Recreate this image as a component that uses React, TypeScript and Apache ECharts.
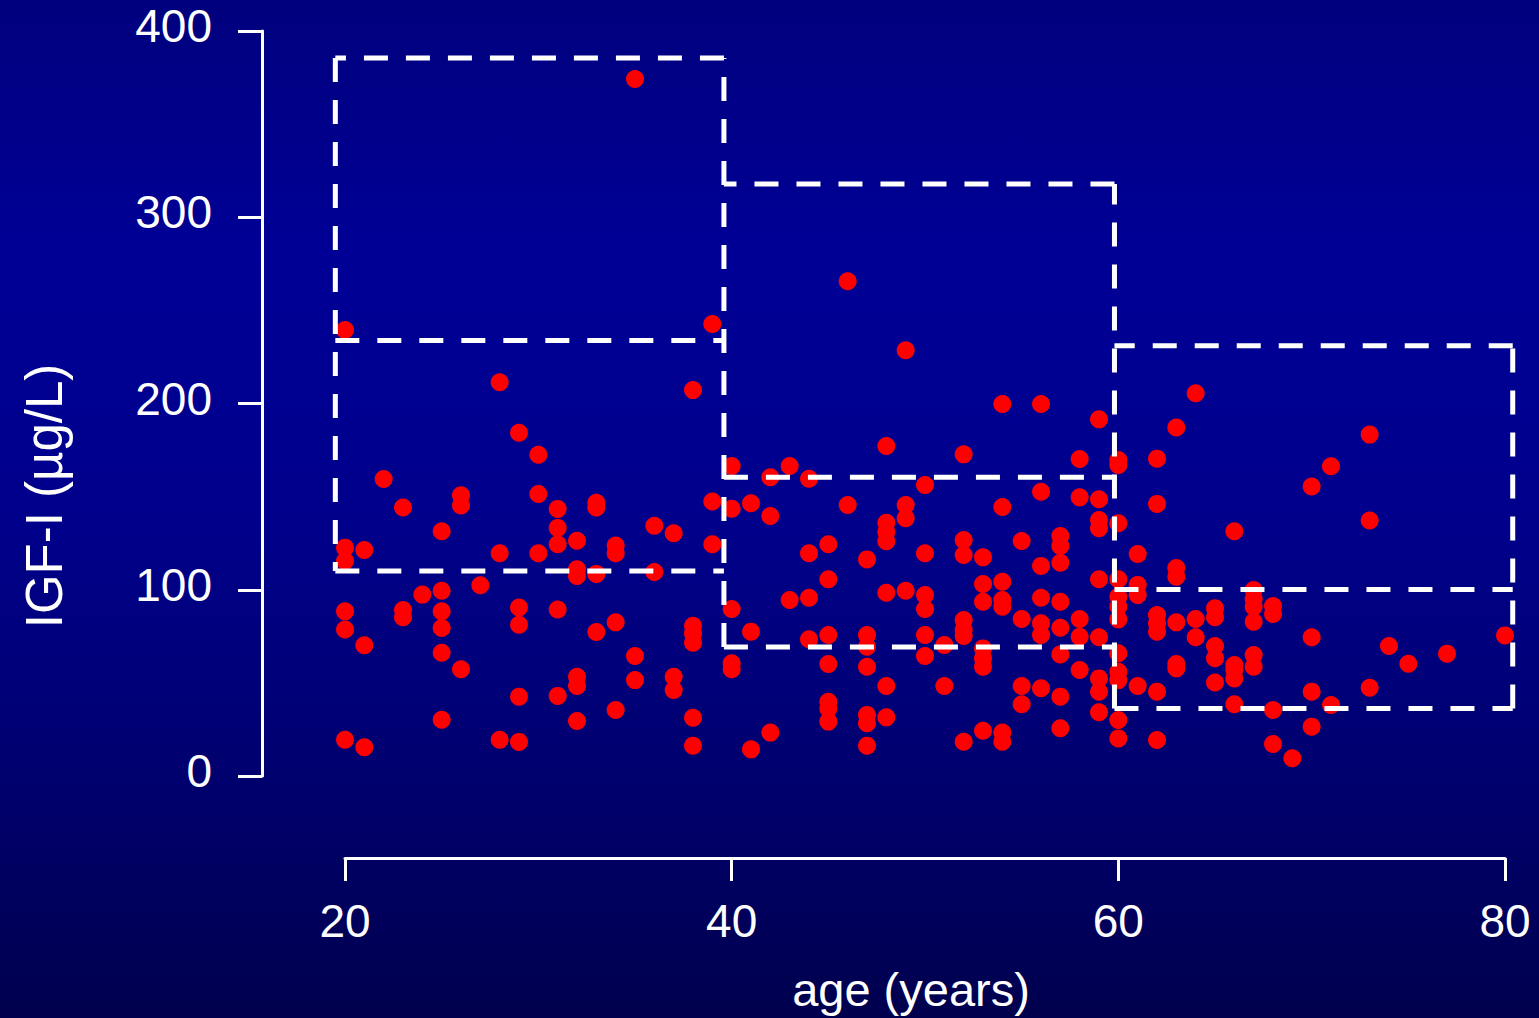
import React, { useEffect, useRef } from "react";
import * as echarts from "echarts";

// [age (years), IGF-I (µg/L)]
const youngPoints: [number, number][] = [
  [20, 239.5], [20, 122.6], [20, 115.4], [20, 88.4], [20, 78.7], [20, 19.5],
  [21, 121.3], [21, 70.2], [21, 15.4],
  [22, 159.5],
  [23, 144.2], [23, 89.1], [23, 85.2],
  [24, 97.4],
  [25, 131.4], [25, 99.5], [25, 88.4], [25, 79.5], [25, 66.2], [25, 30.2],
  [26, 150.7], [26, 145.3], [26, 57.3],
  [27, 102.4],
  [28, 211.4], [28, 119.6], [28, 19.5],
  [29, 184.3], [29, 90.5], [29, 81.2], [29, 42.6], [29, 18.3],
  [30, 172.5], [30, 151.4], [30, 119.6],
  [31, 143.4], [31, 133.2], [31, 124.4], [31, 89.4], [31, 43.0],
  [32, 126.3], [32, 111.0], [32, 107.4], [32, 53.3], [32, 48.3], [32, 29.5],
  [33, 146.7], [33, 144.2], [33, 108.5], [33, 77.3],
  [34, 123.7], [34, 119.6], [34, 82.5], [34, 35.4],
  [35, 374.2], [35, 64.4], [35, 51.5],
  [36, 134.4], [36, 109.5],
  [37, 130.3], [37, 53.3], [37, 46.2],
  [38, 207.2], [38, 80.7], [38, 76.6], [38, 71.6], [38, 31.3], [38, 16.3],
  [39, 242.7], [39, 147.4], [39, 124.4],
];

const middlePoints: [number, number][] = [
  [40, 166.4], [40, 143.5], [40, 89.7], [40, 60.5], [40, 57.3],
  [41, 146.4], [41, 77.5], [41, 14.3],
  [42, 160.4], [42, 139.6], [42, 23.3],
  [43, 166.4], [43, 94.5],
  [44, 159.6], [44, 119.6], [44, 95.7], [44, 73.4],
  [45, 124.4], [45, 105.6], [45, 75.7], [45, 60.1], [45, 39.9], [45, 36.3], [45, 29.2],
  [46, 265.6], [46, 145.5],
  [47, 116.3], [47, 75.7], [47, 69.4], [47, 58.7], [47, 32.8], [47, 28.3], [47, 16.3],
  [48, 177.2], [48, 136.0], [48, 131.0], [48, 126.0], [48, 98.4], [48, 48.3], [48, 31.5],
  [49, 228.6], [49, 145.5], [49, 138.4], [49, 99.5],
  [50, 156.2], [50, 119.6], [50, 97.2], [50, 89.7], [50, 75.7], [50, 64.4],
  [51, 70.3], [51, 48.3],
  [52, 172.7], [52, 126.7], [52, 118.7], [52, 83.8], [52, 78.4], [52, 75.2], [52, 18.4],
  [53, 117.4], [53, 103.1], [53, 93.6], [53, 68.5], [53, 63.2], [53, 58.7], [53, 24.3],
  [54, 199.7], [54, 144.4], [54, 104.3], [54, 94.5], [54, 90.9], [54, 23.3], [54, 18.4],
  [55, 126.2], [55, 84.3], [55, 48.3], [55, 38.5],
  [56, 199.7], [56, 152.6], [56, 112.8], [56, 95.7], [56, 82.0], [56, 75.7], [56, 47.1],
  [57, 128.9], [57, 123.5], [57, 114.5], [57, 93.6], [57, 79.6], [57, 65.3], [57, 42.6], [57, 25.6],
  [58, 170.2], [58, 149.6], [58, 84.3], [58, 74.8], [58, 56.9],
  [59, 191.5], [59, 148.6], [59, 137.4], [59, 133.0], [59, 105.6], [59, 74.5], [59, 52.4], [59, 45.3], [59, 34.2],
];

const olderPoints: [number, number][] = [
  [60, 169.7], [60, 167.0], [60, 135.7], [60, 105.6], [60, 96.3], [60, 90.9], [60, 84.1], [60, 65.9], [60, 56.0], [60, 51.5], [60, 30.1], [60, 20.2],
  [61, 119.2], [61, 102.6], [61, 97.2], [61, 48.3],
  [62, 170.4], [62, 146.1], [62, 86.4], [62, 82.0], [62, 77.5], [62, 45.3], [62, 19.3],
  [63, 187.1], [63, 111.7], [63, 107.0], [63, 82.5], [63, 60.1], [63, 57.8],
  [64, 205.5], [64, 84.3], [64, 74.5],
  [65, 90.0], [65, 85.2], [65, 69.8], [65, 63.2], [65, 50.2],
  [66, 131.4], [66, 59.6], [66, 56.9], [66, 52.4], [66, 38.5],
  [67, 99.9], [67, 95.0], [67, 90.9], [67, 82.8], [67, 65.0], [67, 58.7],
  [68, 91.3], [68, 87.0], [68, 35.4], [68, 17.2],
  [69, 9.5],
  [70, 155.4], [70, 74.5], [70, 45.3], [70, 26.5],
  [71, 166.3], [71, 38.1],
  [73, 183.3], [73, 137.2], [73, 47.4],
  [74, 69.8],
  [75, 60.3],
  [77, 65.7],
  [80, 75.5],
];

// reference boxes per age band
const boxLeft = [19.5, 39.6, 59.8];
const boxRight = [39.6, 59.8, 80.4];
const boxLower = [110.1, 69.3, 36.3];
const boxMiddle = [233.8, 160.4, 100.2];
const boxUpper = [385.5, 317.9, 231.0];

const xTicks = [20, 40, 60, 80];
const yTicks = [0, 100, 200, 300, 400];

const FONT = "'Liberation Sans', Arial, Helvetica, sans-serif";

export default function App() {
  const ref = useRef<HTMLDivElement>(null);

  useEffect(() => {
    document.body.style.margin = "0";
    document.body.style.overflow = "hidden";
    if (!ref.current) return;
    const chart = echarts.init(ref.current, undefined, { renderer: "svg" });

    const dashStyle = {
      color: "#ffffff",
      width: 5,
      type: [24, 18] as any,
      cap: "butt" as const,
    };

    const seg = (pts: [number, number][]) => ({
      type: "line",
      xAxisIndex: 1,
      yAxisIndex: 1,
      data: pts,
      showSymbol: false,
      symbol: "none",
      clip: false,
      silent: true,
      z: 5,
      lineStyle: dashStyle,
    });

    const boxSeries: any[] = [];
    for (let i = 0; i < boxLeft.length; i++) {
      const x0 = boxLeft[i];
      const x1 = boxRight[i];
      boxSeries.push(seg([[x0, boxLower[i]], [x1, boxLower[i]]]));
      boxSeries.push(seg([[x0, boxMiddle[i]], [x1, boxMiddle[i]]]));
      boxSeries.push(seg([[x1, boxUpper[i]], [x0, boxUpper[i]]]));
      if (i === 0) {
        boxSeries.push(seg([[x0, boxUpper[i]], [x0, boxLower[i]]]));
      }
      const nextLower = i + 1 < boxLeft.length ? Math.min(boxLower[i], boxLower[i + 1]) : boxLower[i];
      const nextUpper = i + 1 < boxLeft.length ? Math.max(boxUpper[i], boxUpper[i + 1]) : boxUpper[i];
      boxSeries.push(seg([[x1, nextLower], [x1, nextUpper]]));
    }

    const allPoints = [...youngPoints, ...middlePoints, ...olderPoints];

    const hiddenAxis = {
      show: false,
      splitLine: { show: false },
    };

    chart.setOption({
      animation: false,
      backgroundColor: "transparent",
      textStyle: { fontFamily: FONT },
      grid: [
        { left: 345, right: 34, top: 31, bottom: 242, containLabel: false },
        { left: 345 - 1160 / 60, right: 34 - 1160 / 60, top: 31, bottom: 242, containLabel: false },
      ],
      xAxis: [
        {
          type: "value",
          gridIndex: 0,
          min: xTicks[0],
          max: xTicks[xTicks.length - 1],
          interval: 20,
          offset: 82,
          splitLine: { show: false },
          axisLine: { show: true, onZero: false, lineStyle: { color: "#ffffff", width: 3 } },
          axisTick: { show: true, length: 23, lineStyle: { color: "#ffffff", width: 3 } },
          axisLabel: {
            color: "#ffffff",
            fontSize: 46,
            fontFamily: FONT,
            margin: 40,
            showMinLabel: true,
            showMaxLabel: true,
          },
        },
        { type: "value", gridIndex: 1, min: 19, max: 81, ...hiddenAxis },
      ],
      yAxis: [
        {
          type: "value",
          gridIndex: 0,
          min: yTicks[0],
          max: yTicks[yTicks.length - 1],
          interval: 100,
          offset: 83,
          splitLine: { show: false },
          axisLine: { show: true, onZero: false, lineStyle: { color: "#ffffff", width: 3 } },
          axisTick: { show: true, length: 24, lineStyle: { color: "#ffffff", width: 3 } },
          axisLabel: {
            color: "#ffffff",
            fontSize: 46,
            fontFamily: FONT,
            margin: 50,
            verticalAlign: "bottom",
            lineHeight: 10,
          },
        },
        { type: "value", gridIndex: 1, min: 0, max: 400, ...hiddenAxis },
      ],
      graphic: [
        {
          type: "text",
          x: 44,
          y: 496,
          rotation: Math.PI / 2,
          style: {
            text: "IGF-I (µg/L)",
            fill: "#ffffff",
            font: `51px ${FONT}`,
            align: "center",
            verticalAlign: "middle",
          },
        },
        {
          type: "text",
          x: 911,
          y: 989,
          style: {
            text: "age (years)",
            fill: "#ffffff",
            font: `47px ${FONT}`,
            align: "center",
            verticalAlign: "middle",
          },
        },
      ],
      series: [
        {
          type: "scatter",
          xAxisIndex: 0,
          yAxisIndex: 0,
          data: allPoints,
          symbol: "circle",
          symbolSize: 18,
          clip: false,
          z: 3,
          itemStyle: { color: "#ff0000", opacity: 1 },
        },
        ...boxSeries,
      ],
    });

    return () => {
      chart.dispose();
    };
  }, []);

  return (
    <div
      ref={ref}
      style={{
        width: 1539,
        height: 1018,
        background:
          "linear-gradient(to bottom, #00007e 0%, #000096 25%, #00008c 50%, #000070 75%, #00004e 100%)",
      }}
    />
  );
}
